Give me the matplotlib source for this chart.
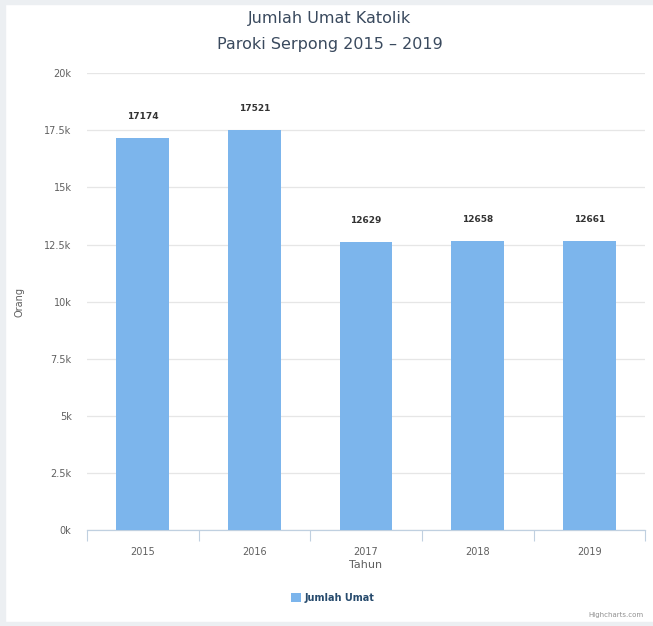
import matplotlib.pyplot as plt
from matplotlib.patches import Rectangle
from matplotlib.ticker import FuncFormatter, MultipleLocator
import numpy as np

tahun = ["2015", "2016", "2017", "2018", "2019"]
jumlah_umat = [17174, 17521, 12629, 12658, 12661]

BAR_COLOR = "#7cb5ec"
TEXT = "#606060"

plt.rcParams["font.family"] = ["DejaVu Sans"]

fig = plt.figure(figsize=(6.53, 6.26), dpi=100)
fig.patch.set_facecolor("white")

# light grey frame of the page around the chart
for (x, y, w, h) in [(0, 0.994, 1, 0.006), (0, 0, 0.007, 1), (0, 0, 1, 0.006)]:
    fig.patches.append(Rectangle((x, y), w, h, transform=fig.transFigure,
                                 color="#eceff2", zorder=0))

ax = fig.add_axes([0.133, 0.153, 0.855, 0.730])

x = np.arange(len(tahun))
bars = ax.bar(x, jumlah_umat, width=0.47, color=BAR_COLOR, zorder=3)

for xi, v in zip(x, jumlah_umat):
    ax.annotate(str(v), (xi, v), xytext=(0, 12), textcoords="offset points",
                ha="center", va="bottom", fontsize=6.5, fontweight="bold",
                color="#333333")

ax.set_xlim(-0.5, len(tahun) - 0.5)
ax.set_ylim(0, 20000)
ax.yaxis.set_major_locator(MultipleLocator(2500))
ax.yaxis.set_major_formatter(FuncFormatter(lambda v, p: f"{v/1000:g}k"))
ax.grid(axis="y", color="#e6e6e6", linewidth=0.9, zorder=0)

ax.set_xticks(x)
ax.set_xticklabels(tahun)
ax.set_xticks(np.arange(-0.5, len(tahun)), minor=True)
ax.tick_params(axis="x", which="major", length=0, pad=12, labelsize=7, labelcolor=TEXT)
ax.tick_params(axis="x", which="minor", length=8, color="#c0d0e0", width=0.8)
ax.tick_params(axis="y", length=0, pad=11, labelsize=7, labelcolor=TEXT)

for s in ["top", "right", "left"]:
    ax.spines[s].set_visible(False)
ax.spines["bottom"].set_color("#c0d0e0")
ax.spines["bottom"].set_linewidth(0.9)

ax.set_xlabel("Tahun", fontsize=8, color=TEXT, labelpad=2)
ax.set_ylabel("Orang", fontsize=7, color=TEXT)
ax.yaxis.set_label_coords(-0.111, 0.5)

fig.text(0.505, 0.970, "Jumlah Umat Katolik", ha="center", va="center",
         fontsize=11.5, color="#3a4a5e")
fig.text(0.505, 0.929, "Paroki Serpong 2015 \u2013 2019", ha="center", va="center",
         fontsize=11.5, color="#3a4a5e")

leg = ax.legend(bars, ["Jumlah Umat"], loc="center", bbox_to_anchor=(0.51, 0.045),
                bbox_transform=fig.transFigure, frameon=False, handlelength=1.0,
                handleheight=1.0, handletextpad=0.4, prop={"size": 7, "weight": "bold"})
for t in leg.get_texts():
    t.set_color("#274b6d")

fig.text(0.985, 0.013, "Highcharts.com", ha="right", va="bottom", fontsize=5, color="#909090")

fig.savefig("out.png", dpi=100)
